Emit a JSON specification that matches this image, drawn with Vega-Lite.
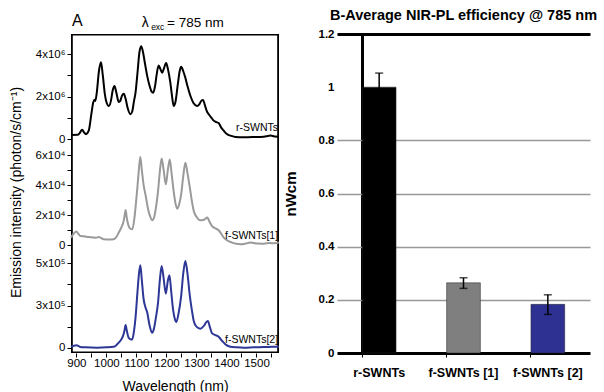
{
  "$schema": "https://vega.github.io/schema/vega-lite/v6.json",
  "background": "white",
  "padding": {"left": 9, "top": 7, "right": 5, "bottom": 0},
  "spacing": 0,
  "config": {
    "font": "Liberation Sans",
    "view": {"stroke": null},
    "axis": {"labelFont": "Liberation Sans", "titleFont": "Liberation Sans", "labelColor": "black", "titleColor": "black", "tickColor": "black", "domainColor": "black"},
    "title": {"font": "Liberation Sans", "color": "black"},
    "text": {"font": "Liberation Sans"}
  },
  "datasets": {
    "r": [
      {"wl":882,"v":190000},{"wl":905,"v":200000},{"wl":912,"v":300000},{"wl":919,"v":440000},{"wl":926,"v":300000},{"wl":932,"v":230000},{"wl":941,"v":390000},{"wl":950,"v":1200000},{"wl":956,"v":1720000},{"wl":960,"v":1850000},{"wl":963,"v":1800000},{"wl":968,"v":2200000},{"wl":975,"v":3200000},{"wl":982,"v":3630000},{"wl":988,"v":3000000},{"wl":995,"v":2100000},{"wl":1001,"v":1700000},{"wl":1008,"v":1560000},{"wl":1015,"v":1800000},{"wl":1021,"v":2300000},{"wl":1027,"v":2500000},{"wl":1033,"v":2200000},{"wl":1041,"v":1750000},{"wl":1046,"v":1800000},{"wl":1052,"v":2050000},{"wl":1058,"v":2140000},{"wl":1064,"v":1900000},{"wl":1071,"v":1450000},{"wl":1080,"v":1170000},{"wl":1086,"v":1300000},{"wl":1092,"v":1800000},{"wl":1097,"v":2190000},{"wl":1104,"v":3200000},{"wl":1110,"v":4100000},{"wl":1116,"v":4380000},{"wl":1122,"v":4100000},{"wl":1128,"v":3600000},{"wl":1136,"v":2970000},{"wl":1144,"v":2500000},{"wl":1150,"v":2250000},{"wl":1156,"v":2190000},{"wl":1162,"v":2500000},{"wl":1168,"v":3100000},{"wl":1174,"v":3470000},{"wl":1180,"v":3300000},{"wl":1186,"v":3130000},{"wl":1192,"v":3350000},{"wl":1199,"v":3590000},{"wl":1205,"v":3300000},{"wl":1213,"v":2660000},{"wl":1218,"v":2100000},{"wl":1224,"v":1560000},{"wl":1230,"v":1750000},{"wl":1238,"v":2600000},{"wl":1244,"v":3200000},{"wl":1249,"v":3410000},{"wl":1256,"v":3200000},{"wl":1263,"v":2890000},{"wl":1270,"v":2500000},{"wl":1280,"v":2030000},{"wl":1290,"v":1700000},{"wl":1302,"v":1560000},{"wl":1310,"v":1650000},{"wl":1316,"v":1800000},{"wl":1322,"v":1840000},{"wl":1328,"v":1600000},{"wl":1335,"v":1300000},{"wl":1341,"v":1170000},{"wl":1350,"v":1000000},{"wl":1358,"v":860000},{"wl":1366,"v":800000},{"wl":1374,"v":750000},{"wl":1382,"v":550000},{"wl":1391,"v":390000},{"wl":1400,"v":250000},{"wl":1413,"v":160000},{"wl":1430,"v":100000},{"wl":1458,"v":80000},{"wl":1490,"v":90000},{"wl":1524,"v":110000},{"wl":1547,"v":160000},{"wl":1560,"v":120000},{"wl":1575,"v":110000}
    ],
    "f1": [
      {"wl":882,"v":5100},{"wl":890,"v":7500},{"wl":900,"v":9100},{"wl":907,"v":7500},{"wl":913,"v":6200},{"wl":925,"v":6000},{"wl":941,"v":5500},{"wl":955,"v":5200},{"wl":965,"v":5000},{"wl":975,"v":5500},{"wl":980,"v":5100},{"wl":991,"v":4000},{"wl":1010,"v":3800},{"wl":1024,"v":4000},{"wl":1033,"v":5500},{"wl":1041,"v":8400},{"wl":1050,"v":12000},{"wl":1056,"v":15000},{"wl":1060,"v":19000},{"wl":1064,"v":23500},{"wl":1068,"v":18000},{"wl":1074,"v":12800},{"wl":1080,"v":11000},{"wl":1086,"v":10600},{"wl":1092,"v":16000},{"wl":1097,"v":25000},{"wl":1103,"v":38000},{"wl":1108,"v":50000},{"wl":1113,"v":58600},{"wl":1118,"v":50000},{"wl":1124,"v":40000},{"wl":1130,"v":33800},{"wl":1140,"v":23000},{"wl":1146,"v":19000},{"wl":1152,"v":16600},{"wl":1158,"v":18000},{"wl":1165,"v":25000},{"wl":1172,"v":36000},{"wl":1178,"v":49000},{"wl":1184,"v":57700},{"wl":1190,"v":51000},{"wl":1198,"v":40500},{"wl":1204,"v":49000},{"wl":1211,"v":57000},{"wl":1217,"v":48000},{"wl":1224,"v":36000},{"wl":1230,"v":28000},{"wl":1236,"v":24300},{"wl":1242,"v":27000},{"wl":1249,"v":33800},{"wl":1256,"v":46000},{"wl":1263,"v":54900},{"wl":1270,"v":48000},{"wl":1278,"v":38300},{"wl":1285,"v":29000},{"wl":1291,"v":22800},{"wl":1300,"v":19000},{"wl":1313,"v":16600},{"wl":1325,"v":17000},{"wl":1336,"v":18400},{"wl":1344,"v":15500},{"wl":1352,"v":12800},{"wl":1363,"v":11200},{"wl":1374,"v":10000},{"wl":1383,"v":7500},{"wl":1391,"v":5100},{"wl":1405,"v":3000},{"wl":1419,"v":1800},{"wl":1433,"v":1000},{"wl":1447,"v":700},{"wl":1465,"v":1200},{"wl":1480,"v":1800},{"wl":1500,"v":1200},{"wl":1524,"v":1100},{"wl":1545,"v":1500},{"wl":1560,"v":1300},{"wl":1575,"v":1800}
    ],
    "f2": [
      {"wl":882,"v":6000},{"wl":892,"v":12000},{"wl":900,"v":14000},{"wl":907,"v":10000},{"wl":913,"v":4000},{"wl":930,"v":2000},{"wl":969,"v":0},{"wl":1000,"v":2000},{"wl":1024,"v":6000},{"wl":1033,"v":15000},{"wl":1041,"v":30000},{"wl":1050,"v":50000},{"wl":1056,"v":73000},{"wl":1060,"v":100000},{"wl":1064,"v":134000},{"wl":1068,"v":100000},{"wl":1074,"v":59000},{"wl":1080,"v":50000},{"wl":1086,"v":49000},{"wl":1092,"v":100000},{"wl":1097,"v":178000},{"wl":1103,"v":320000},{"wl":1108,"v":430000},{"wl":1113,"v":488000},{"wl":1118,"v":400000},{"wl":1124,"v":287000},{"wl":1130,"v":240000},{"wl":1136,"v":208000},{"wl":1144,"v":130000},{"wl":1152,"v":89000},{"wl":1158,"v":110000},{"wl":1165,"v":180000},{"wl":1172,"v":267000},{"wl":1178,"v":400000},{"wl":1184,"v":484000},{"wl":1190,"v":420000},{"wl":1198,"v":320000},{"wl":1204,"v":390000},{"wl":1210,"v":429000},{"wl":1216,"v":330000},{"wl":1222,"v":227000},{"wl":1228,"v":170000},{"wl":1233,"v":152000},{"wl":1240,"v":200000},{"wl":1249,"v":306000},{"wl":1256,"v":440000},{"wl":1263,"v":514000},{"wl":1270,"v":440000},{"wl":1278,"v":306000},{"wl":1285,"v":220000},{"wl":1291,"v":158000},{"wl":1300,"v":125000},{"wl":1313,"v":113000},{"wl":1325,"v":130000},{"wl":1332,"v":150000},{"wl":1338,"v":158000},{"wl":1345,"v":120000},{"wl":1352,"v":85000},{"wl":1363,"v":75000},{"wl":1374,"v":65000},{"wl":1383,"v":45000},{"wl":1391,"v":30000},{"wl":1400,"v":15000},{"wl":1413,"v":6000},{"wl":1435,"v":2000},{"wl":1458,"v":0},{"wl":1490,"v":2000},{"wl":1524,"v":4000},{"wl":1550,"v":5000},{"wl":1575,"v":6000}
    ],
    "bars": [
      {"s":"r-SWNTs","v":1.0,"lo":0.95,"hi":1.053},
      {"s":"f-SWNTs [1]","v":0.264,"lo":0.243,"hi":0.283},
      {"s":"f-SWNTs [2]","v":0.183,"lo":0.145,"hi":0.219}
    ],
    "frameA": [
      {"x0": 882, "x1": 888, "y0": -10106000, "y1": 4958700},
      {"x0": 1569, "x1": 1575, "y0": -10106000, "y1": 4958700},
      {"x0": 882, "x1": 1575, "y0": 4887900, "y1": 4958700},
      {"x0": 882, "x1": 1575, "y0": -10106000, "y1": -10035000}
    ]
  },
  "hconcat": [
    {
      "width": 208,
      "height": 319,
      "encoding": {
        "x": {"field": "wl", "type": "quantitative",
          "scale": {"domain": [882, 1575], "nice": false, "zero": false},
          "axis": {"values": [900,950,1000,1050,1100,1150,1200,1250,1300,1350,1400,1450,1500,1550],
            "labelExpr": "datum.value % 100 == 0 ? datum.label : ''", "format": "d",
            "title": "Wavelength (nm)", "titleFontSize": 14, "titleFontWeight": "normal",
            "labelFontSize": 11.5, "tickSize": 4, "labelPadding": 0, "titlePadding": 10.5,
            "domain": false, "grid": false, "labelFlush": false, "labelOverlap": false}}
      },
      "layer": [
        {
          "data": {"name": "r"},
          "encoding": {
            "y": {"field": "v", "type": "quantitative",
              "scale": {"domain": [0, 4000000], "range": [105, 20.3], "nice": false, "zero": false},
              "axis": {"orient": "left", "values": [0,1000000,2000000,3000000,4000000],
                "labelExpr": "datum.value == 4000000 ? '4x10⁶' : datum.value == 2000000 ? '2x10⁶' : datum.value == 0 ? '0' : ''",
                "title": null, "grid": false, "domain": false, "tickSize": 4, "labelPadding": 2,
                "labelFontSize": 11.5, "labelOverlap": false, "labelFlush": false}}
          },
          "layer": [
            {"mark": {"type": "line", "color": "black", "strokeWidth": 2, "interpolate": "monotone"}},
            {"data": {"values": [{"wl": 1572, "v": 519000, "t": "r-SWNTs"}]},
              "mark": {"type": "text", "align": "right", "baseline": "middle", "fontSize": 10.5, "color": "black"},
              "encoding": {"text": {"field": "t"}}},
            {"data": {"values": [{"wl": 885, "v": 5549000, "t": "A"}]},
              "mark": {"type": "text", "align": "left", "baseline": "middle", "fontSize": 16, "color": "black"},
              "encoding": {"text": {"field": "t"}}},
            {"data": {"values": [{"wl": 1118, "v": 5500000, "t": "λ"}]},
              "mark": {"type": "text", "align": "left", "baseline": "middle", "fontSize": 14, "color": "black"},
              "encoding": {"text": {"field": "t"}}},
            {"data": {"values": [{"wl": 1149, "v": 5290000, "t": "exc"}]},
              "mark": {"type": "text", "align": "left", "baseline": "middle", "fontSize": 8.5, "color": "black"},
              "encoding": {"text": {"field": "t"}}},
            {"data": {"values": [{"wl": 1202, "v": 5500000, "t": "= 785 nm"}]},
              "mark": {"type": "text", "align": "left", "baseline": "middle", "fontSize": 13.5, "color": "black"},
              "encoding": {"text": {"field": "t"}}},
            {"data": {"name": "frameA"},
              "mark": {"type": "rect", "color": "black"},
              "encoding": {
                "x": {"field": "x0", "type": "quantitative"},
                "x2": {"field": "x1"},
                "y": {"field": "y0", "type": "quantitative"},
                "y2": {"field": "y1"}}}
          ]
        },
        {
          "data": {"name": "f1"},
          "encoding": {
            "y": {"field": "v", "type": "quantitative",
              "scale": {"domain": [0, 60000], "range": [211.3, 121], "nice": false, "zero": false},
              "axis": {"orient": "left", "values": [0,10000,20000,30000,40000,50000,60000],
                "labelExpr": "datum.value == 60000 ? '6x10⁴' : datum.value == 40000 ? '4x10⁴' : datum.value == 20000 ? '2x10⁴' : datum.value == 0 ? '0' : ''",
                "title": "Emission intensity (photon/s/cm⁻¹)", "titleFontSize": 14, "titleFontWeight": "normal",
                "titlePadding": 12, "titleY": 158,
                "grid": false, "domain": false, "tickSize": 4, "labelPadding": 2,
                "labelFontSize": 11.5, "labelOverlap": false, "labelFlush": false}}
          },
          "layer": [
            {"mark": {"type": "line", "color": "#9a9a9a", "strokeWidth": 2, "interpolate": "monotone"}},
            {"data": {"values": [{"wl": 1572, "v": 6380, "t": "f-SWNTs[1]"}]},
              "mark": {"type": "text", "align": "right", "baseline": "middle", "fontSize": 10.5, "color": "black"},
              "encoding": {"text": {"field": "t"}}}
          ]
        },
        {
          "data": {"name": "f2"},
          "encoding": {
            "y": {"field": "v", "type": "quantitative",
              "scale": {"domain": [0, 500000], "range": [313.7, 229.3], "nice": false, "zero": false},
              "axis": {"orient": "left", "values": [0,125000,250000,375000,500000],
                "labelExpr": "datum.value == 500000 ? '5x10⁵' : datum.value == 250000 ? '3x10⁵' : datum.value == 0 ? '0' : ''",
                "title": null, "grid": false, "domain": false, "tickSize": 4, "labelPadding": 2,
                "labelFontSize": 11.5, "labelOverlap": false, "labelFlush": false}}
          },
          "layer": [
            {"mark": {"type": "line", "color": "#2d3796", "strokeWidth": 2, "interpolate": "monotone"}},
            {"data": {"values": [{"wl": 1572, "v": 46800, "t": "f-SWNTs[2]"}]},
              "mark": {"type": "text", "align": "right", "baseline": "middle", "fontSize": 10.5, "color": "black"},
              "encoding": {"text": {"field": "t"}}}
          ]
        }
      ],
      "resolve": {"scale": {"y": "independent"}, "axis": {"y": "independent"}}
    },
    {
      "width": 253,
      "height": 319,
      "title": {"text": "B-Average NIR-PL efficiency @ 785 nm", "fontSize": 14.5, "fontWeight": "bold", "offset": 5, "anchor": "middle"},
      "data": {"name": "bars"},
      "encoding": {
        "x": {"field": "s", "type": "nominal", "sort": null,
          "scale": {"paddingInner": 0.6, "paddingOuter": 0.3},
          "axis": {"title": null, "labelAngle": 0, "labelFontSize": 12.5, "labelFontWeight": "bold",
            "bandPosition": 0, "tickSize": 4, "labelPadding": 9, "domain": false,
            "grid": true, "gridColor": "black", "gridWidth": 3,
            "gridOpacity": {"condition": {"test": "datum.value == 'r-SWNTs'", "value": 1}, "value": 0}}}
      },
      "layer": [
        {"mark": {"type": "bar", "stroke": "#222222", "strokeWidth": 1, "strokeOpacity": 0.5},
          "encoding": {
            "y": {"field": "v", "type": "quantitative", "title": "nWcm",
              "scale": {"domain": [0, 1.2], "nice": false},
              "axis": {"values": [0, 0.2, 0.4, 0.6, 0.8, 1, 1.2], "format": "~g",
                "titleFontSize": 15, "titleFontWeight": "bold", "titlePadding": 20,
                "labelFontSize": 11.5, "labelFontWeight": "bold", "ticks": false, "labelPadding": 3,
                "domain": false, "grid": true,
                "gridColor": {"condition": {"test": "datum.value < 0.1 || datum.value > 1.1", "value": "black"}, "value": "#999999"},
                "gridWidth": {"condition": {"test": "datum.value < 0.1 || datum.value > 1.1", "value": 3}, "value": 1.5},
                "gridOpacity": {"condition": {"test": "datum.value > 0.9 && datum.value < 1.1", "value": 0}, "value": 1}}},
            "color": {"field": "s", "type": "nominal",
              "scale": {"domain": ["r-SWNTs", "f-SWNTs [1]", "f-SWNTs [2]"], "range": ["#000000", "#7f7f7f", "#2e3192"]},
              "legend": null}
          }},
        {"mark": {"type": "rule", "color": "black", "strokeWidth": 1.5},
          "encoding": {"y": {"field": "lo", "type": "quantitative", "title": "nWcm"}, "y2": {"field": "hi"}}},
        {"mark": {"type": "tick", "color": "black", "thickness": 1.5, "size": 8},
          "encoding": {"y": {"field": "hi", "type": "quantitative", "title": "nWcm"}}},
        {"mark": {"type": "tick", "color": "black", "thickness": 1.5, "size": 8},
          "encoding": {"y": {"field": "lo", "type": "quantitative", "title": "nWcm"}}}
      ]
    }
  ]
}
